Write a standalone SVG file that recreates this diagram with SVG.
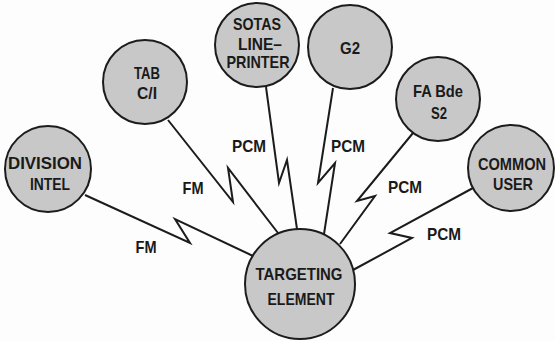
<svg xmlns="http://www.w3.org/2000/svg" width="555" height="341" viewBox="0 0 555 341">
<style>
.bg{fill:#fdfdfd}
.link{fill:none;stroke:#1c1c1c;stroke-width:2;stroke-linejoin:miter;stroke-miterlimit:10}
.node circle{fill:#c8c8c8;stroke:#1c1c1c;stroke-width:2}
text{font-family:"Liberation Sans",Arial,sans-serif;font-weight:bold;font-size:17px;fill:#1a1a1a;text-anchor:middle}
</style>
<rect class="bg" x="0" y="0" width="555" height="341"/>
<g id="connectors">
<path class="link" d="M85,195 L190,243 L175,219 L253,256"/>
<path class="link" d="M168,120 L233,202 L228,168 L278,233"/>
<path class="link" d="M266,87 L279,183 L287,160 L297,229"/>
<path class="link" d="M333,88 L318,183 L335,163 L324,234"/>
<path class="link" d="M413,133 L357,201 L375,196 L340,244"/>
<path class="link" d="M473,188 L390,233 L412,238 L353,270"/>
<text x="249" y="151.5" textLength="34" lengthAdjust="spacingAndGlyphs">PCM</text>
<text x="348" y="151.5" textLength="34" lengthAdjust="spacingAndGlyphs">PCM</text>
<text x="405" y="192.5" textLength="34" lengthAdjust="spacingAndGlyphs">PCM</text>
<text x="444" y="239.5" textLength="34" lengthAdjust="spacingAndGlyphs">PCM</text>
<text x="193" y="193.5" textLength="21" lengthAdjust="spacingAndGlyphs">FM</text>
<text x="146" y="252.5" textLength="21" lengthAdjust="spacingAndGlyphs">FM</text>
</g>
<g id="node-tab" class="node">
<circle cx="145" cy="82" r="42"/>
<text x="147" y="78.5" textLength="26" lengthAdjust="spacingAndGlyphs">TAB</text>
<text x="147" y="98.5" textLength="20" lengthAdjust="spacingAndGlyphs">C/I</text>
</g>
<g id="node-sotas" class="node">
<circle cx="257" cy="45" r="42"/>
<text x="257" y="29.5" textLength="48" lengthAdjust="spacingAndGlyphs">SOTAS</text>
<text x="260" y="49.5" textLength="44" lengthAdjust="spacingAndGlyphs">LINE–</text>
<text x="258" y="67.5" textLength="63" lengthAdjust="spacingAndGlyphs">PRINTER</text>
</g>
<g id="node-g2" class="node">
<circle cx="350" cy="47" r="42"/>
<text x="350" y="53.5" textLength="20" lengthAdjust="spacingAndGlyphs">G2</text>
</g>
<g id="node-fabde" class="node">
<circle cx="438" cy="99" r="42"/>
<text x="438" y="96.5" textLength="50" lengthAdjust="spacingAndGlyphs">FA Bde</text>
<text x="439" y="118.5" textLength="16" lengthAdjust="spacingAndGlyphs">S2</text>
</g>
<g id="node-common" class="node">
<circle cx="511" cy="168" r="43"/>
<text x="512" y="169.5" style="font-size:16px" textLength="68" lengthAdjust="spacingAndGlyphs">COMMON</text>
<text x="513" y="189.5" textLength="40" lengthAdjust="spacingAndGlyphs">USER</text>
</g>
<g id="node-division" class="node">
<circle cx="48" cy="169" r="43"/>
<text x="45" y="168.5" textLength="74" lengthAdjust="spacingAndGlyphs">DIVISION</text>
<text x="50" y="189.5" textLength="40" lengthAdjust="spacingAndGlyphs">INTEL</text>
</g>
<g id="node-targeting" class="node">
<circle cx="300" cy="284" r="55"/>
<text x="299" y="279.5" textLength="87" lengthAdjust="spacingAndGlyphs">TARGETING</text>
<text x="301" y="304.5" textLength="67" lengthAdjust="spacingAndGlyphs">ELEMENT</text>
</g>
</svg>
